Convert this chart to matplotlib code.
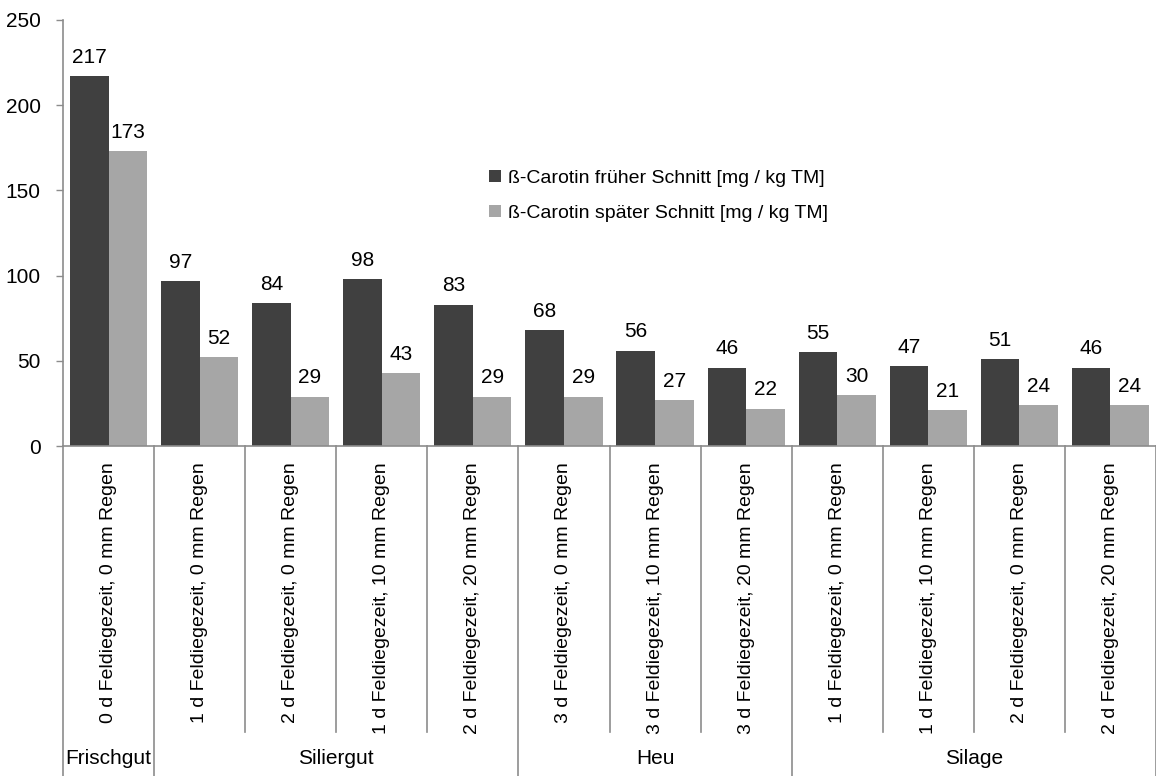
import matplotlib
matplotlib.use("Agg")
import matplotlib.pyplot as plt
from matplotlib.patches import Patch
from matplotlib.transforms import blended_transform_factory

plt.rcParams['font.family'] = ['Liberation Sans', 'DejaVu Sans']

categories = ["0 d Feldiegezeit, 0 mm Regen",
              "1 d Feldiegezeit, 0 mm Regen",
              "2 d Feldiegezeit, 0 mm Regen",
              "1 d Feldiegezeit, 10 mm Regen",
              "2 d Feldiegezeit, 20 mm Regen",
              "3 d Feldiegezeit, 0 mm Regen",
              "3 d Feldiegezeit, 10 mm Regen",
              "3 d Feldiegezeit, 20 mm Regen",
              "1 d Feldiegezeit, 0 mm Regen",
              "1 d Feldiegezeit, 10 mm Regen",
              "2 d Feldiegezeit, 0 mm Regen",
              "2 d Feldiegezeit, 20 mm Regen"]
groups = ["Frischgut", "Siliergut", "Heu", "Silage"]
group_sizes = [1, 4, 3, 4]
early = [217, 97, 84, 98, 83, 68, 56, 46, 55, 47, 51, 46]
late = [173, 52, 29, 43, 29, 29, 27, 22, 30, 21, 24, 24]
series_names = ["ß-Carotin früher Schnitt [mg / kg TM]",
                "ß-Carotin später Schnitt [mg / kg TM]"]

dark = "#404040"
light = "#a6a6a6"
axcol = "#8c8c8c"
fs = 14

W, H = 1156, 776
fig = plt.figure(figsize=(W / 100, H / 100), dpi=100)
ax = fig.add_axes([63 / W, (H - 446) / H, (W - 63) / W, (446 - 20) / H])

n = len(categories)
centers = [i + 0.5 for i in range(n)]
bw = 0.424
x1 = [c - bw / 2 for c in centers]
x2 = [c + bw / 2 for c in centers]
ax.bar(x1, early, width=bw, color=dark, linewidth=0)
ax.bar(x2, late, width=bw, color=light, linewidth=0)

for xs, vals in ((x1, early), (x2, late)):
    for x, v in zip(xs, vals):
        ax.annotate(str(v), (x, v), xytext=(0, 9.5), textcoords="offset points",
                    ha="center", va="baseline", fontsize=15)

ax.set_xlim(0, n)
ax.set_ylim(0, 250)
ax.set_yticks(range(0, 251, 50))
ax.tick_params(axis="y", length=5, width=1, color=axcol, pad=11, labelsize=15)
ax.set_xticks(centers)
ax.set_xticklabels(categories, rotation=90, ha="center", va="top", fontsize=fs)
ax.tick_params(axis="x", length=0, pad=12)

for s in ("top", "right"):
    ax.spines[s].set_visible(False)
for s in ("left", "bottom"):
    ax.spines[s].set_color(axcol)
    ax.spines[s].set_linewidth(1.2)

# separators below the axis
trans = blended_transform_factory(ax.transData, ax.transAxes)
ax_h = 446 - 20
short = -(732 - 446) / ax_h
long_ = -(776 - 446) / ax_h
bounds = [0]
for g in group_sizes:
    bounds.append(bounds[-1] + g)
for i in range(n + 1):
    y_end = long_ if i in bounds else short
    ax.plot([i, i], [0, y_end], transform=trans, color=axcol, lw=1.2, clip_on=False)

label_y = -(758 - 446) / ax_h
for gi, g in enumerate(groups):
    mid = (bounds[gi] + bounds[gi + 1]) / 2
    ax.text(mid, label_y, g, transform=trans, ha="center", va="center", fontsize=15)

handles = [Patch(color=dark, linewidth=0), Patch(color=light, linewidth=0)]
fig.legend(handles, series_names, loc="upper left",
           bbox_to_anchor=(489 / W, 1 - 170 / H), frameon=False, fontsize=fs,
           handlelength=0.6, handleheight=0.6, handletextpad=0.4,
           labelspacing=0.9, borderpad=0, borderaxespad=0)

fig.savefig("out.png", dpi=100)
